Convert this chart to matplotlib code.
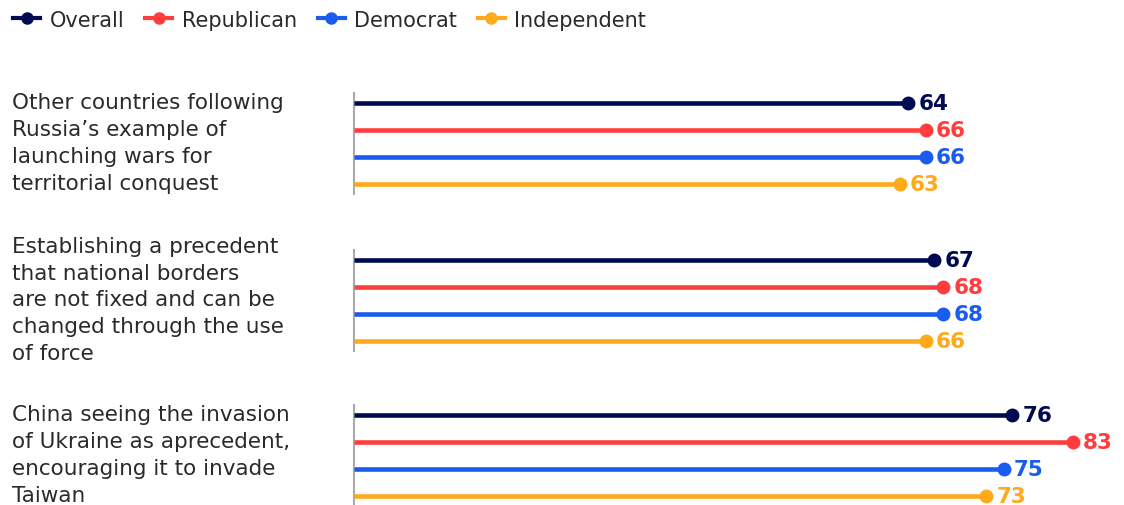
import matplotlib
matplotlib.use('Agg')
import matplotlib.pyplot as plt
from matplotlib.lines import Line2D

# 数据
categories = [
    "Other countries following\nRussia\u2019s example of\nlaunching wars for\nterritorial conquest",
    "Establishing a precedent\nthat national borders\nare not fixed and can be\nchanged through the use\nof force",
    "China seeing the invasion\nof Ukraine as aprecedent,\nencouraging it to invade\nTaiwan",
]
series_names = ["Overall", "Republican", "Democrat", "Independent"]
overall = [64, 67, 76]
republican = [66, 68, 83]
democrat = [66, 68, 75]
independent = [63, 66, 73]

colors = ["#000a52", "#ff3d3d", "#1a5cf0", "#ffaa1a"]
plt.rcParams['font.family'] = ['DejaVu Sans']

W, H = 1124, 506
fig = plt.figure(figsize=(W / 100, H / 100), dpi=100)
x0 = 354
px_per_unit = 8.66
ax = fig.add_axes([x0 / W, 0, (W - x0) / W, 1])
ax.set_xlim(0, (W - x0) / px_per_unit)
ax.set_ylim(H, 0)
ax.axis('off')

group_top = [104, 261, 416]
row_gap = 27
values = [overall, republican, democrat, independent]

for g, cat in enumerate(categories):
    ys = [group_top[g] + i * row_gap for i in range(4)]
    # 灰色竖轴
    ax.plot([0, 0], [ys[0] - 11, ys[-1] + 11], color='#aaaaaa', lw=1.5,
            solid_capstyle='butt', zorder=1, clip_on=False)
    for s, vals in enumerate(values):
        v = vals[g]
        ax.plot([0, v], [ys[s], ys[s]], color=colors[s], lw=3.3,
                solid_capstyle='butt', zorder=2)
        ax.plot(v, ys[s], 'o', color=colors[s], ms=9, zorder=3)
        ax.annotate(str(v), (v, ys[s]), xytext=(7.5, 0), textcoords='offset points',
                    va='center', ha='left', fontsize=15.5, fontweight='bold',
                    color=colors[s], annotation_clip=False)
    yc = (ys[0] + ys[-1]) / 2 - 1
    fig.text(12 / W, 1 - yc / H, cat, ha='left', va='center', fontsize=15.5,
             color='#2a2a2a', linespacing=1.42)

handles = [Line2D([0], [0], color=c, lw=3, marker='o', ms=8) for c in colors]
fig.legend(handles, series_names, loc='upper left', bbox_to_anchor=(-0.005, 1.016),
           ncol=4, frameon=False, fontsize=15, handlelength=1.3,
           handletextpad=0.45, columnspacing=1.0, labelcolor='#2a2a2a')

fig.savefig('out.png', dpi=100)
